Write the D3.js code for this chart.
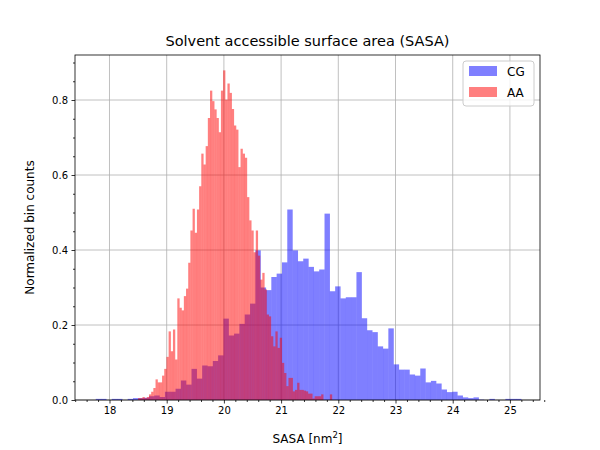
<!DOCTYPE html>
<html><head><meta charset="utf-8">
<script src="https://cdn.jsdelivr.net/npm/d3@7"></script>
<style>body{margin:0;background:#fff}svg{font-family:"DejaVu Sans",sans-serif}</style>
</head><body><svg id="c" width="600" height="450"></svg>
<script>
const cgStart = 17.76, cgWidth = 0.093;
const cgValues = [0.003,0.003,0,0.003,0.003,0,0.003,0.005,0.005,0.006,0.01,0.012,0.008,0.022,0.022,0.03,0.052,0.041,0.083,0.057,0.092,0.090,0.104,0.119,0.217,0.172,0.177,0.203,0.228,0.257,0.399,0.30,0.293,0.328,0.337,0.367,0.508,0.399,0.370,0.377,0.355,0.343,0.348,0.497,0.290,0.303,0.271,0.274,0.274,0.341,0.218,0.186,0.181,0.143,0.137,0.191,0.095,0.081,0.081,0.068,0.065,0.084,0.047,0.051,0.044,0.028,0.021,0.022,0.012,0.007,0.005,0.007,0.001,0,0.003,0,0,0.003,0.003,0.003];
const aaStart = 18.5, aaWidth = 0.0381;
const aaValues = [0.005,0.005,0.008,0.005,0.008,0.015,0.022,0.032,0.055,0.047,0.047,0.065,0.083,0.115,0.183,0.130,0.188,0.108,0.271,0.246,0.239,0.277,0.297,0.366,0.452,0.510,0.446,0.508,
0.570,0.657,0.628,0.677,0.752,0.825,0.797,0.775,0.752,0.714,0.825,0.879,0.801,0.844,0.819,0.776,0.732,0.721,0.621,0.670,0.657,0.646,0.541,0.479,0.452,0.394,0.452,
0.385,0.321,0.339,0.295,0.228,0.223,0.170,0.143,0.183,0.139,0.166,0.099,0.072,0.037,0.059,0.059,0.023,0.027,0.046,0.027,0.027,0.025,0.023,0.017,0.017,0.004,0.01,0.01,0.01,0.015,0,0,0,0.015];
const xTicks = [18,19,20,21,22,23,24,25];
const yTicks = [0,0.2,0.4,0.6,0.8];
const labels = {title:"Solvent accessible surface area (SASA)", x:"SASA [nm", y:"Normalized bin counts"};
const series = [{name:"CG", color:"rgba(0,0,255,0.5)"},{name:"AA", color:"rgba(255,0,0,0.5)"}];

const L=75,R=540,T=55,B=400;
const svg=d3.select("#c");
const x=d3.scaleLinear().domain([17.397,25.526]).range([L,R]);
const y=d3.scaleLinear().domain([0,0.92]).range([B,T]);

// grid
const g=svg.append("g");
g.selectAll(".gx").data(xTicks).join("line").attr("x1",d=>x(d)).attr("x2",d=>x(d)).attr("y1",T).attr("y2",B).attr("stroke","#b0b0b0").attr("stroke-width",0.8);
g.selectAll(".gy").data(yTicks).join("line").attr("y1",d=>y(d)).attr("y2",d=>y(d)).attr("x1",L).attr("x2",R).attr("stroke","#b0b0b0").attr("stroke-width",0.8);

function bars(vals,start,w,color){
  svg.append("g").selectAll("rect").data(vals).join("rect")
   .attr("x",(d,i)=>x(start+i*w)).attr("width",(d,i)=>x(start+(i+1)*w)-x(start+i*w)+0.1)
   .attr("y",d=>y(d)).attr("height",d=>B-y(d)).attr("fill",color);
}
bars(cgValues,cgStart,cgWidth,series[0].color);
bars(aaValues,aaStart,aaWidth,series[1].color);

// axes
const xa=svg.append("g").attr("transform",`translate(0,${B})`).call(d3.axisBottom(x).tickValues(xTicks).tickFormat(d3.format("d")).tickSize(3.5).tickPadding(3.5));
svg.append("g").attr("transform",`translate(0,${B})`).call(d3.axisBottom(x).tickValues(d3.range(17.4,25.6,0.2).filter(v=>Math.abs(v-Math.round(v))>0.01)).tickFormat("").tickSize(2));
const ya=svg.append("g").attr("transform",`translate(${L},0)`).call(d3.axisLeft(y).tickValues(yTicks).tickFormat(d3.format(".1f")).tickSize(3.5).tickPadding(3.5));
svg.append("g").attr("transform",`translate(${L},0)`).call(d3.axisLeft(y).tickValues(d3.range(0.05,0.92,0.05).filter(v=>Math.abs(v*5-Math.round(v*5))>0.01)).tickFormat("").tickSize(2));
svg.selectAll(".domain").remove();
svg.selectAll(".tick text").attr("font-size",10).attr("fill","#000").attr("font-family","DejaVu Sans");
svg.selectAll(".tick line").attr("stroke","#000").attr("stroke-width",0.8);
svg.append("rect").attr("x",L).attr("y",T).attr("width",R-L).attr("height",B-T).attr("fill","none").attr("stroke","#000").attr("stroke-width",0.8);

svg.append("text").attr("x",(L+R)/2).attr("y",46).attr("text-anchor","middle").attr("font-size",14.5).text(labels.title);
const xl=svg.append("text").attr("x",(L+R)/2).attr("y",443).attr("text-anchor","middle").attr("font-size",12);
xl.append("tspan").text(labels.x);
xl.append("tspan").attr("font-size",8.5).attr("dy",-5).text("2");
xl.append("tspan").attr("dy",5).text("]");
svg.append("text").attr("transform",`translate(34,${(T+B)/2}) rotate(-90)`).attr("text-anchor","middle").attr("font-size",12).text(labels.y);

// legend
const lg=svg.append("g");
lg.append("rect").attr("x",463).attr("y",61).attr("width",71).attr("height",45).attr("rx",3).attr("fill","#fff").attr("fill-opacity",0.8).attr("stroke","#ccc");
series.forEach((s,i)=>{
  lg.append("rect").attr("x",469).attr("y",66+i*21).attr("width",28).attr("height",10).attr("fill",s.color);
  lg.append("text").attr("x",507).attr("y",76+i*21).attr("font-size",12).text(s.name);
});
</script></body></html>
